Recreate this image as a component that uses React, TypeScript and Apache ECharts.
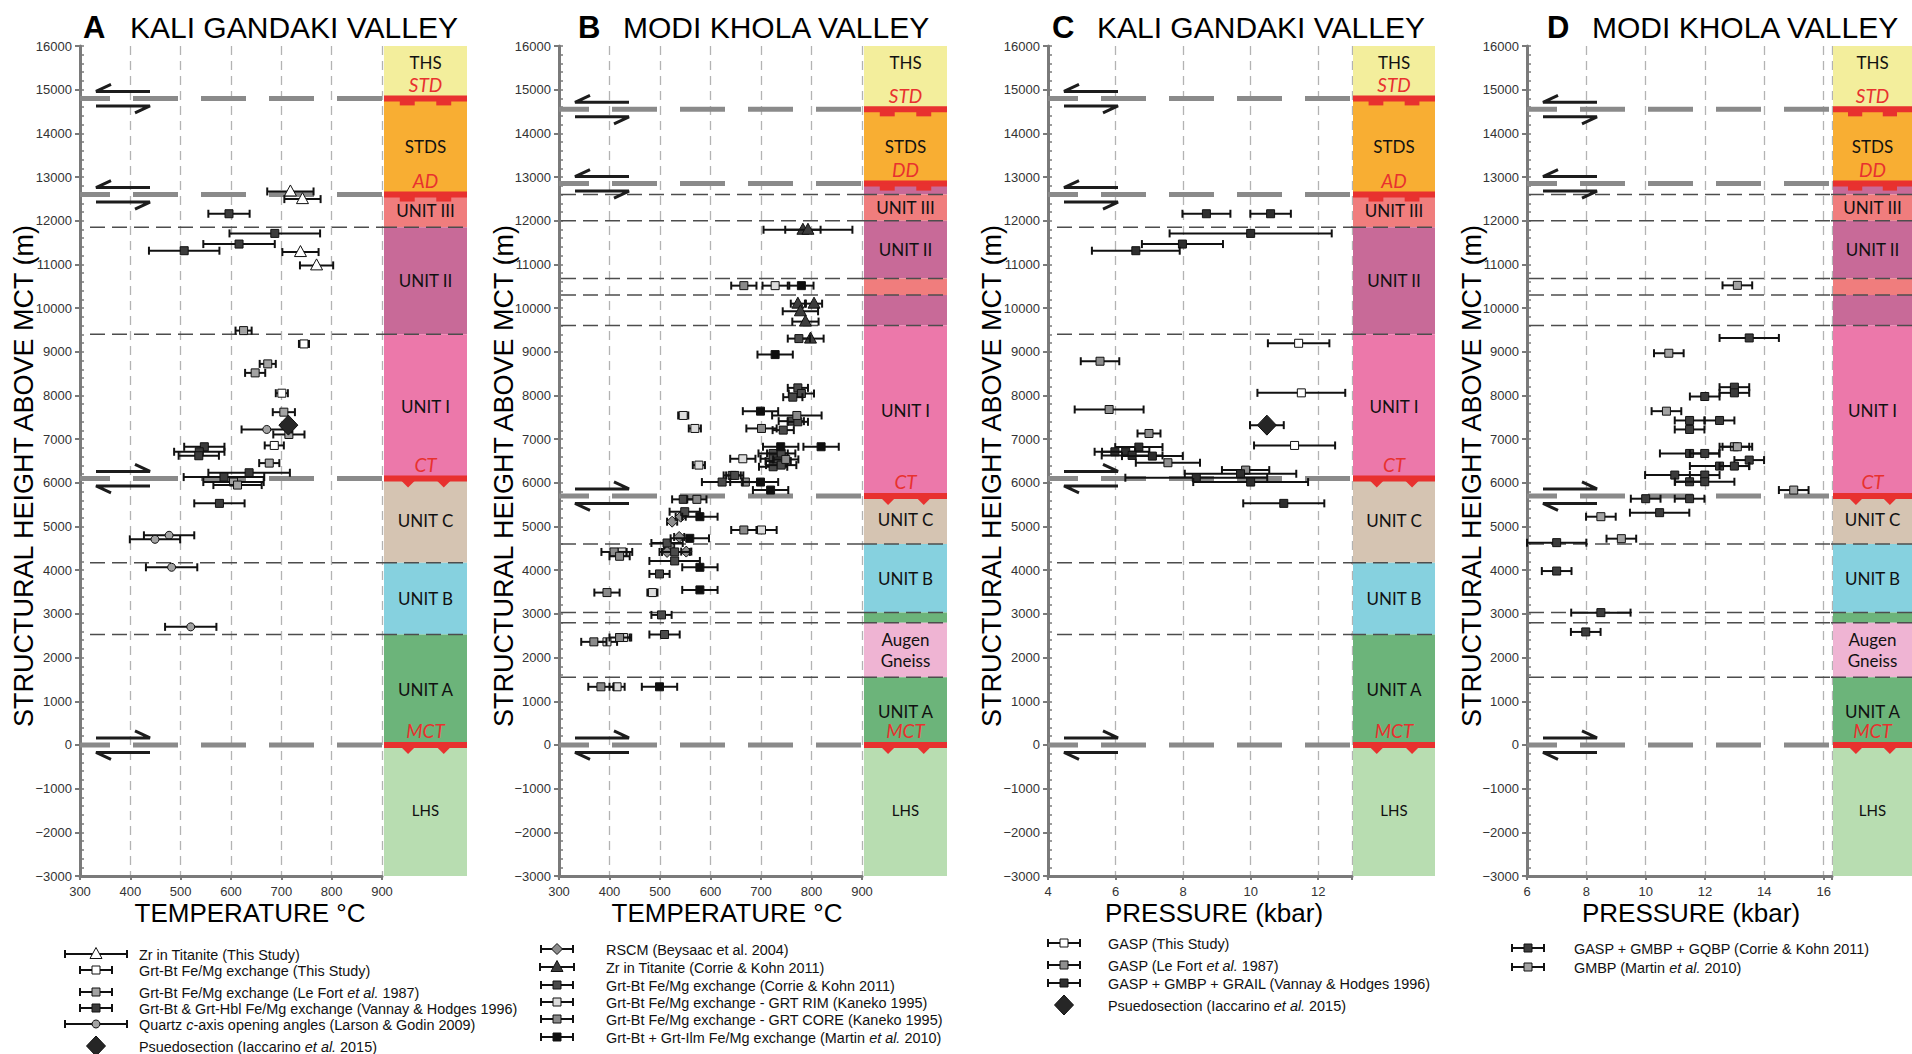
import React, { useEffect, useRef } from "react";
import * as echarts from "echarts";

// ---------------- axis values ----------------
const HEIGHT_MIN = -3000;
const HEIGHT_MAX = 16000;
const HEIGHT_STEP = 1000;

// ---------------- Panel A : Kali Gandaki, temperature [°C, height m, ±°C] ----------------
const zrTitaniteThisStudyA = [[718, 12670, 46], [742, 12495, 36], [738, 11283, 36], [770, 10978, 33]];
const grtBtThisStudyA = [[745, 9180, 10], [701, 8052, 12], [686, 6856, 19]];
const grtBtLeFortA = [[625, 9485, 16], [673, 8723, 16], [648, 8517, 20], [705, 7618, 22], [715, 7107, 31], [676, 6452, 20], [605, 6018, 60], [613, 5949, 48]];
const grtBtVannayA = [[596, 12160, 41], [687, 11710, 90], [616, 11466, 71], [507, 11314, 70], [547, 6826, 40], [537, 6711, 50], [536, 6620, 40], [636, 6231, 81], [586, 6132, 80], [577, 5530, 50]];
const quartzLarsonA = [[671, 7222, 50], [477, 4799, 50], [449, 4707, 50], [482, 4067, 51], [520, 2703, 51]];
const pseudosectionA = [[714, 7321, 0]];

// ---------------- Panel B : Modi Khola, temperature ----------------
const rscmB = [[524, 5111, 10], [541, 5225, 10], [538, 4761, 10], [518, 4555, 10], [514, 4418, 10], [552, 4426, 10]];
const zrTitaniteCorrieB = [[783, 11794, 35], [793, 11794, 88], [773, 10102, 14], [805, 10102, 16], [778, 9927, 35], [788, 9691, 26], [798, 9302, 26]];
const grtBtCorrieB = [[775, 9302, 22], [773, 8174, 20], [780, 8045, 25], [763, 7961, 19], [760, 7412, 25], [773, 7397, 20], [744, 7207, 21], [724, 6673, 29], [740, 6673, 28], [724, 6551, 25], [734, 6498, 25], [724, 6368, 28], [740, 6406, 30], [643, 6170, 17], [648, 6170, 17], [623, 6018, 40], [546, 5622, 22], [549, 5339, 30], [514, 4623, 31], [529, 4418, 30], [529, 4212, 50], [499, 3915, 20], [503, 2977, 20], [509, 2528, 30]];
const grtRimKanekoB = [[728, 10514, 25], [546, 7542, 10], [569, 7245, 12], [664, 6551, 25], [577, 6406, 12], [701, 4921, 30], [425, 4418, 20], [485, 3488, 10], [395, 2360, 20], [428, 2459, 15], [415, 1331, 15]];
const grtCoreKanekoB = [[666, 10514, 25], [771, 7542, 49], [701, 7245, 30], [749, 6536, 25], [669, 6018, 30], [573, 5622, 19], [666, 4921, 25], [409, 4418, 25], [420, 4319, 20], [395, 3488, 25], [369, 2360, 25], [420, 2459, 20], [383, 1331, 25]];
const grtIlmMartinB = [[780, 10514, 24], [728, 8936, 35], [699, 7641, 35], [739, 6826, 35], [819, 6826, 35], [699, 6018, 35], [719, 5835, 35], [579, 5225, 35], [559, 4730, 38], [579, 4067, 35], [579, 3549, 35], [499, 1331, 35]];

// ---------------- Panel C : Kali Gandaki, pressure [kbar, height m, ±kbar] ----------------
const gaspThisStudyC = [[11.42, 9195, 0.91], [11.5, 8060, 1.3], [11.3, 6856, 1.2]];
const gaspLeFortC = [[5.54, 8784, 0.57], [5.81, 7679, 1.02], [6.99, 7130, 0.34], [7.55, 6460, 0.95], [9.85, 6292, 0.7]];
const gaspVannayC = [[8.69, 12160, 0.71], [10.59, 12160, 0.6], [10.0, 11710, 2.4], [7.98, 11466, 1.2], [6.6, 11314, 1.3], [6.69, 6818, 0.7], [5.98, 6711, 0.6], [6.3, 6711, 0.7], [6.49, 6627, 0.9], [7.09, 6612, 0.9], [9.7, 6208, 1.65], [8.39, 6117, 2.1], [10.0, 6018, 1.7], [10.98, 5530, 1.2]];
const pseudosectionC = [[10.48, 7321, 0.5]];

// ---------------- Panel D : Modi Khola, pressure ----------------
const gaspCorrieD = [[13.49, 9317, 1.0], [12.99, 8190, 0.5], [12.99, 8060, 0.5], [11.99, 7976, 0.5], [11.48, 7428, 0.5], [12.49, 7428, 0.5], [11.48, 7222, 0.5], [11.48, 6673, 1.0], [11.99, 6673, 0.5], [13.49, 6521, 0.5], [12.49, 6384, 1.0], [12.99, 6384, 0.5], [10.98, 6178, 1.0], [11.99, 6178, 0.5], [11.48, 6025, 0.5], [11.99, 6025, 1.0], [10.0, 5637, 0.5], [11.48, 5637, 0.5], [10.47, 5317, 1.0], [7.0, 4631, 1.0], [7.0, 3981, 0.5], [8.49, 3029, 1.0], [7.98, 2587, 0.5]];
const gmbpMartinD = [[13.09, 10521, 0.5], [10.78, 8967, 0.5], [10.7, 7641, 0.5], [12.99, 6826, 0.5], [13.09, 6826, 0.5], [14.99, 5835, 0.5], [8.49, 5225, 0.5], [9.18, 4722, 0.5]];

// ---------------- tectonostratigraphic columns ----------------
const kaliBands = [
  { unit: "THS", from: 14800, to: 16000, label: "THS" },
  { unit: "STDS", from: 12600, to: 14800, label: "STDS" },
  { unit: "UNIT III", from: 11850, to: 12600, label: "UNIT III" },
  { unit: "UNIT II", from: 9400, to: 11850, label: "UNIT II" },
  { unit: "UNIT I", from: 6100, to: 9400, label: "UNIT I" },
  { unit: "UNIT C", from: 4170, to: 6100, label: "UNIT C" },
  { unit: "UNIT B", from: 2530, to: 4170, label: "UNIT B" },
  { unit: "UNIT A", from: 0, to: 2530, label: "UNIT A" },
  { unit: "LHS", from: -3000, to: 0, label: "LHS" },
];
const kaliFaults = [
  { name: "STD", height: 14800, sense: "normal" },
  { name: "AD", height: 12600, sense: "normal" },
  { name: "CT", height: 6100, sense: "thrust" },
  { name: "MCT", height: 0, sense: "thrust" },
];
const kaliBoundaries = [11850, 9400, 4170, 2530];

const modiBands = [
  { unit: "THS", from: 14550, to: 16000, label: "THS" },
  { unit: "STDS", from: 12850, to: 14550, label: "STDS" },
  { unit: "UNIT II", from: 12600, to: 12850, label: "" },
  { unit: "UNIT III", from: 12000, to: 12600, label: "UNIT III" },
  { unit: "UNIT II", from: 10680, to: 12000, label: "UNIT II" },
  { unit: "UNIT III", from: 10300, to: 10680, label: "" },
  { unit: "UNIT II", from: 9600, to: 10300, label: "" },
  { unit: "UNIT I", from: 5700, to: 9600, label: "UNIT I" },
  { unit: "UNIT C", from: 4600, to: 5700, label: "UNIT C" },
  { unit: "UNIT B", from: 3030, to: 4600, label: "UNIT B" },
  { unit: "UNIT A", from: 2800, to: 3030, label: "" },
  { unit: "Augen Gneiss", from: 1550, to: 2800, label: "Augen\nGneiss" },
  { unit: "UNIT A", from: 0, to: 1550, label: "UNIT A" },
  { unit: "LHS", from: -3000, to: 0, label: "LHS" },
];
const modiFaults = [
  { name: "STD", height: 14550, sense: "normal" },
  { name: "DD", height: 12850, sense: "normal" },
  { name: "CT", height: 5700, sense: "thrust" },
  { name: "MCT", height: 0, sense: "thrust" },
];
const modiBoundaries = [12600, 12000, 10680, 10300, 9600, 4600, 3030, 2800, 1550];

// ---------------- styles ----------------
const RED = "#e8312f";
const unitColors: Record<string, string> = {
  THS: "#f3ee9c",
  STDS: "#f8ae33",
  "UNIT III": "#f07d7d",
  "UNIT II": "#c86a98",
  "UNIT I": "#ec78aa",
  "UNIT C": "#d5c4b2",
  "UNIT B": "#86d1df",
  "UNIT A": "#6cb47a",
  "Augen Gneiss": "#efb4d3",
  LHS: "#b8ddb1",
};
const FONT = "'Liberation Sans', Arial, sans-serif";
const COLFONT = "Lato, 'Open Sans', sans-serif";

const setsA = [
  { legend: "Zr in Titanite (This Study)", data: zrTitaniteThisStudyA, symbol: "triangle", fill: "#ffffff", bar: "long" },
  { legend: "Grt-Bt Fe/Mg exchange (This Study)", data: grtBtThisStudyA, symbol: "square", fill: "#ffffff", bar: "short" },
  { legend: "Grt-Bt Fe/Mg exchange (Le Fort {i|et al.} 1987)", data: grtBtLeFortA, symbol: "square", fill: "#a3a3a3", bar: "short" },
  { legend: "Grt-Bt & Grt-Hbl Fe/Mg exchange (Vannay & Hodges 1996)", data: grtBtVannayA, symbol: "square", fill: "#3c3c3c", bar: "short" },
  { legend: "Quartz {i|c}-axis opening angles (Larson & Godin 2009)", data: quartzLarsonA, symbol: "circle", fill: "#a3a3a3", bar: "long" },
  { legend: "Psuedosection (Iaccarino {i|et al.} 2015)", data: pseudosectionA, symbol: "bigDiamond", fill: "#262626", bar: "none" },
];
const setsB = [
  { legend: "RSCM (Beysaac et al. 2004)", data: rscmB, symbol: "diamond", fill: "#8c8c8c", bar: "short" },
  { legend: "Zr in Titanite (Corrie & Kohn 2011)", data: zrTitaniteCorrieB, symbol: "triangle", fill: "#3c3c3c", bar: "mid" },
  { legend: "Grt-Bt Fe/Mg exchange (Corrie & Kohn 2011)", data: grtBtCorrieB, symbol: "square", fill: "#4a4a4a", bar: "short" },
  { legend: "Grt-Bt Fe/Mg exchange - GRT RIM (Kaneko 1995)", data: grtRimKanekoB, symbol: "square", fill: "#dcdcdc", bar: "short" },
  { legend: "Grt-Bt Fe/Mg exchange - GRT CORE (Kaneko 1995)", data: grtCoreKanekoB, symbol: "square", fill: "#8a8a8a", bar: "short" },
  { legend: "Grt-Bt + Grt-Ilm Fe/Mg exchange (Martin {i|et al.} 2010)", data: grtIlmMartinB, symbol: "square", fill: "#0e0e0e", bar: "short" },
];
const setsC = [
  { legend: "GASP (This Study)", data: gaspThisStudyC, symbol: "square", fill: "#ffffff", bar: "short" },
  { legend: "GASP (Le Fort {i|et al.} 1987)", data: gaspLeFortC, symbol: "square", fill: "#8f8f8f", bar: "short" },
  { legend: "GASP + GMBP + GRAIL (Vannay & Hodges 1996)", data: gaspVannayC, symbol: "square", fill: "#2e2e2e", bar: "short" },
  { legend: "Psuedosection (Iaccarino {i|et al.} 2015)", data: pseudosectionC, symbol: "bigDiamond", fill: "#262626", bar: "none" },
];
const setsD = [
  { legend: "GASP + GMBP + GQBP (Corrie & Kohn 2011)", data: gaspCorrieD, symbol: "square", fill: "#3c3c3c", bar: "short" },
  { legend: "GMBP (Martin {i|et al.} 2010)", data: gmbpMartinD, symbol: "square", fill: "#a3a3a3", bar: "short" },
];

const panels = [
  { letter: "A", title: "KALI GANDAKI VALLEY", xTitle: "TEMPERATURE °C", xMin: 300, xMax: 900, xStep: 100, xLabelMax: 900, bands: kaliBands, faults: kaliFaults, boundaries: kaliBoundaries, sets: setsA },
  { letter: "B", title: "MODI KHOLA VALLEY", xTitle: "TEMPERATURE °C", xMin: 300, xMax: 900, xStep: 100, xLabelMax: 900, bands: modiBands, faults: modiFaults, boundaries: modiBoundaries, sets: setsB },
  { letter: "C", title: "KALI GANDAKI VALLEY", xTitle: "PRESSURE (kbar)", xMin: 4, xMax: 13, xStep: 2, xLabelMax: 12, bands: kaliBands, faults: kaliFaults, boundaries: kaliBoundaries, sets: setsC },
  { letter: "D", title: "MODI KHOLA VALLEY", xTitle: "PRESSURE (kbar)", xMin: 6, xMax: 16.28, xStep: 2, xLabelMax: 16, bands: modiBands, faults: modiFaults, boundaries: modiBoundaries, sets: setsD },
];

// ---------------- layout (pixels) ----------------
const W = 1912;
const H = 1054;
const PLOT_TOP = 46;
const PLOT_H = 830;
const layout = [
  { plotLeft: 80, plotWidth: 302, colLeft: 384, colWidth: 83, letterX: 83, titleX: 130, yTitleX: 24, xTitleX: 250, legendCx: 96, legendTx: 139, legendY: [954, 970, 992, 1008, 1024, 1046], inset: 10 },
  { plotLeft: 559, plotWidth: 303, colLeft: 864, colWidth: 83, letterX: 578, titleX: 623, yTitleX: 504, xTitleX: 727, legendCx: 557, legendTx: 606, legendY: [949, 967, 985, 1002, 1019, 1037], inset: 2 },
  { plotLeft: 1048, plotWidth: 304, colLeft: 1353, colWidth: 82, letterX: 1052, titleX: 1097, yTitleX: 992, xTitleX: 1214, legendCx: 1064, legendTx: 1108, legendY: [943, 965, 983, 1005], inset: 9 },
  { plotLeft: 1527, plotWidth: 305, colLeft: 1833, colWidth: 79, letterX: 1547, titleX: 1592, yTitleX: 1472, xTitleX: 1691, legendCx: 1528, legendTx: 1574, legendY: [948, 967], inset: 2 },
];

// ---------------- drawing helpers ----------------
function marker(sym: string, cx: number, cy: number, fill: string): any {
  const st = { fill, stroke: "#111", lineWidth: 1 };
  if (sym === "square") return { type: "rect", shape: { x: cx - 4, y: cy - 4, width: 8, height: 8 }, style: st };
  if (sym === "triangle") return { type: "polygon", shape: { points: [[cx, cy - 6.5], [cx + 6, cy + 4.5], [cx - 6, cy + 4.5]] }, style: st };
  if (sym === "circle") return { type: "circle", shape: { cx, cy, r: 4 }, style: st };
  if (sym === "diamond") return { type: "polygon", shape: { points: [[cx, cy - 5.5], [cx + 5.5, cy], [cx, cy + 5.5], [cx - 5.5, cy]] }, style: st };
  return { type: "polygon", shape: { points: [[cx, cy - 10], [cx + 9.5, cy], [cx, cy + 10], [cx - 9.5, cy]] }, style: st };
}

function errorBar(x1: number, x2: number, y: number): any[] {
  const st = { stroke: "#111", lineWidth: 2 };
  return [
    { type: "line", shape: { x1, y1: y, x2, y2: y }, style: st },
    { type: "line", shape: { x1, y1: y - 4, x2: x1, y2: y + 4 }, style: st },
    { type: "line", shape: { x1: x2, y1: y - 4, x2, y2: y + 4 }, style: st },
  ];
}

function arrows(x0: number, y: number, sense: string): any[] {
  const a = x0 + 16;
  const b = x0 + 70;
  const ty = y - 7;
  const by = y + 7.5;
  const st = { stroke: "#1c1c1c", lineWidth: 3, fill: null as any };
  if (sense === "normal") {
    return [
      { type: "polyline", shape: { points: [[a + 15, ty - 7], [a, ty], [b, ty]] }, style: st },
      { type: "polyline", shape: { points: [[a, by], [b, by], [b - 15, by + 7]] }, style: st },
    ];
  }
  return [
    { type: "polyline", shape: { points: [[a, ty], [b, ty], [b - 15, ty - 7]] }, style: st },
    { type: "polyline", shape: { points: [[b, by], [a, by], [a + 15, by + 7]] }, style: st },
  ];
}

function textEl(x: number, y: number, text: string, opts: any): any {
  return {
    type: "text",
    x,
    y,
    scaleX: opts.scaleX || 1,
    style: {
      text,
      align: opts.align || "left",
      textAlign: opts.align || "left",
      verticalAlign: "middle",
      textVerticalAlign: "middle",
      fill: opts.fill || "#111",
      fontSize: opts.fontSize,
      fontFamily: opts.fontFamily || FONT,
      fontWeight: opts.fontWeight || "normal",
      fontStyle: opts.fontStyle || "normal",
      lineHeight: opts.lineHeight,
      rich: opts.rich,
    },
    rotation: opts.rotation || 0,
  };
}

const minusFmt = (v: number) => (v < 0 ? "\u2212" + Math.abs(v) : String(v));

function buildOption() {
  const grid: any[] = [];
  const xAxis: any[] = [];
  const yAxis: any[] = [];
  const series: any[] = [];
  const graphic: any[] = [];

  panels.forEach((p, i) => {
    const L = layout[i];
    const gPlot = grid.length;
    grid.push({ left: L.plotLeft, top: PLOT_TOP, width: L.plotWidth, height: PLOT_H });
    grid.push({ left: L.colLeft, top: PLOT_TOP, width: L.colWidth, height: PLOT_H });
    const xi = xAxis.length;
    xAxis.push({
      type: "value",
      gridIndex: gPlot,
      min: p.xMin,
      max: p.xMax,
      interval: p.xStep,
      axisLine: { show: true, onZero: false, lineStyle: { color: "#7a7a7a", width: 3 } },
      axisTick: { show: true, length: 4, lineStyle: { color: "#7a7a7a", width: 2 } },
      axisLabel: {
        color: "#333",
        fontSize: 13,
        fontFamily: FONT,
        margin: 9,
        formatter: (v: number) => (v <= p.xLabelMax + 1e-6 && Math.abs(v / p.xStep - Math.round(v / p.xStep)) < 1e-6 ? String(v) : ""),
      },
      splitLine: { show: true, lineStyle: { color: "#b3b3b3", width: 1.3, type: [9, 6] } },
    });
    xAxis.push({ type: "value", gridIndex: gPlot + 1, min: 0, max: 1, show: false });
    const yi = yAxis.length;
    yAxis.push({
      type: "value",
      gridIndex: gPlot,
      position: "left",
      min: HEIGHT_MIN,
      max: HEIGHT_MAX,
      interval: HEIGHT_STEP,
      axisLine: { show: true, onZero: false, lineStyle: { color: "#7a7a7a", width: 3 } },
      axisTick: { show: true, length: 5, lineStyle: { color: "#7a7a7a", width: 2 } },
      axisLabel: { color: "#333", fontSize: 13, fontFamily: FONT, margin: 8, formatter: minusFmt },
      splitLine: { show: false },
    });
    yAxis.push({
      type: "value",
      gridIndex: gPlot,
      position: "left",
      min: HEIGHT_MIN,
      max: HEIGHT_MAX,
      interval: HEIGHT_STEP,
      axisLine: { show: false, onZero: false },
      axisLabel: { show: false },
      axisTick: { show: true, inside: true, length: 4, lineStyle: { color: "#7a7a7a", width: 1.5 } },
      minorTick: { show: true, splitNumber: 5, length: 4, lineStyle: { color: "#7a7a7a", width: 1.5 } },
      splitLine: { show: false },
    });
    yAxis.push({ type: "value", gridIndex: gPlot + 1, min: HEIGHT_MIN, max: HEIGHT_MAX, show: false });

    // ---- unit boundaries in plot
    series.push({
      type: "custom",
      xAxisIndex: xi,
      yAxisIndex: yi,
      z: 2,
      silent: true,
      data: p.boundaries.map((h) => [p.xMin, h]),
      renderItem: (params: any, api: any) => {
        const cs = params.coordSys;
        const y = api.coord([p.xMin, api.value(1)])[1];
        return {
          type: "line",
          shape: { x1: cs.x + L.inset, y1: y, x2: cs.x + cs.width, y2: y },
          style: { stroke: "#4d4d4d", lineWidth: 1.5, lineDash: [15, 7] },
        };
      },
    });
    // ---- faults in plot: grey dashed line + shear-sense arrows
    series.push({
      type: "custom",
      xAxisIndex: xi,
      yAxisIndex: yi,
      z: 3,
      silent: true,
      data: p.faults.map((f) => [p.xMin, f.height]),
      renderItem: (params: any, api: any) => {
        const f = p.faults[params.dataIndex];
        const cs = params.coordSys;
        const y = api.coord([p.xMin, api.value(1)])[1];
        return {
          type: "group",
          children: [
            {
              type: "line",
              shape: { x1: cs.x, y1: y, x2: cs.x + cs.width, y2: y },
              style: { stroke: "#8a8a8a", lineWidth: 5, lineDash: [45, 23], lineDashOffset: 15 },
            },
            ...arrows(cs.x, y, f.sense),
          ],
        };
      },
    });
    // ---- data sets
    p.sets.forEach((s) => {
      series.push({
        type: "custom",
        xAxisIndex: xi,
        yAxisIndex: yi,
        z: 5,
        silent: true,
        data: s.data,
        renderItem: (params: any, api: any) => {
          const x = api.value(0);
          const y = api.value(1);
          const e = api.value(2);
          const c = api.coord([x, y]);
          const kids: any[] = [];
          if (e > 0) {
            const l = api.coord([x - e, y])[0];
            const r = api.coord([x + e, y])[0];
            kids.push(...errorBar(l, r, c[1]));
          }
          kids.push(marker(s.symbol, c[0], c[1], s.fill));
          return { type: "group", children: kids };
        },
      });
    });

    // ---- column: bands
    series.push({
      type: "custom",
      xAxisIndex: xi + 1,
      yAxisIndex: yi + 2,
      z: 1,
      silent: true,
      data: p.bands.map((b) => [0, b.from, b.to]),
      renderItem: (params: any, api: any) => {
        const b = p.bands[params.dataIndex];
        const tl = api.coord([0, api.value(2)]);
        const br = api.coord([1, api.value(1)]);
        const kids: any[] = [
          { type: "rect", shape: { x: tl[0], y: tl[1], width: br[0] - tl[0], height: br[1] - tl[1] }, style: { fill: unitColors[b.unit] } },
        ];
        if (b.label) {
          const cy = params.dataIndex === 0 ? tl[1] + 16 : (tl[1] + br[1]) / 2;
          kids.push(
            textEl((tl[0] + br[0]) / 2, cy, b.label, {
              align: "center",
              fontSize: b.unit === "LHS" ? 15 : 17,
              fontFamily: COLFONT,
              lineHeight: 21,
            })
          );
        }
        return { type: "group", children: kids };
      },
    });
    // ---- column: boundaries
    series.push({
      type: "custom",
      xAxisIndex: xi + 1,
      yAxisIndex: yi + 2,
      z: 2,
      silent: true,
      data: p.boundaries.map((h) => [0, h]),
      renderItem: (params: any, api: any) => {
        const cs = params.coordSys;
        const y = api.coord([0, api.value(1)])[1];
        return {
          type: "line",
          shape: { x1: cs.x - 2, y1: y, x2: cs.x + cs.width, y2: y },
          style: { stroke: "#4d4d4d", lineWidth: 1.5, lineDash: [15, 7] },
        };
      },
    });
    // ---- column: red faults
    series.push({
      type: "custom",
      xAxisIndex: xi + 1,
      yAxisIndex: yi + 2,
      z: 3,
      silent: true,
      data: p.faults.map((f) => [0, f.height]),
      renderItem: (params: any, api: any) => {
        const f = p.faults[params.dataIndex];
        const cs = params.coordSys;
        const y = api.coord([0, api.value(1)])[1];
        const x0 = cs.x;
        const w = cs.width;
        const kids: any[] = [{ type: "rect", shape: { x: x0, y: y - 3, width: w, height: 6 }, style: { fill: RED } }];
        if (f.sense === "normal") {
          [0.19, 0.63].forEach((fr) => kids.push({ type: "rect", shape: { x: x0 + fr * w, y: y, width: 0.18 * w, height: 7 }, style: { fill: RED } }));
        } else {
          [0.29, 0.72].forEach((fr) => {
            const cx = x0 + fr * w;
            kids.push({ type: "polygon", shape: { points: [[cx - 7, y + 2], [cx + 7, y + 2], [cx, y + 9]] }, style: { fill: RED } });
          });
        }
        kids.push(textEl(x0 + w / 2, y - 14, f.name, { align: "center", fontSize: 19, fontFamily: COLFONT, fontStyle: "italic", fill: RED }));
        return { type: "group", children: kids };
      },
    });

    // ---- titles
    graphic.push(textEl(L.letterX, 27, p.letter, { fontSize: 31, fontWeight: "bold", fill: "#000" }));
    graphic.push(textEl(L.titleX, 27, p.title, { fontSize: 30, fill: "#000" }));
    graphic.push(textEl(L.yTitleX, 476, "STRUCTURAL HEIGHT ABOVE MCT (m)", { align: "center", fontSize: 27, fill: "#000", rotation: Math.PI / 2 }));
    graphic.push(textEl(L.xTitleX, 913, p.xTitle, { align: "center", fontSize: 26, fill: "#000" }));

    // ---- legend
    p.sets.forEach((s, k) => {
      const y = L.legendY[k];
      const cx = L.legendCx;
      if (s.bar !== "none") {
        const hw = s.bar === "long" ? 31 : s.bar === "mid" ? 17 : 16;
        graphic.push(...errorBar(cx - hw, cx + hw, y));
      }
      graphic.push(marker(s.symbol, cx, y, s.fill));
      graphic.push(
        textEl(L.legendTx, y, s.legend, {
          fontSize: 15.5,
          scaleX: 0.93,
          fill: "#111",
          rich: { i: { fontStyle: "italic", fontSize: 15.5, fontFamily: FONT, fill: "#111" } },
        })
      );
    });
  });

  return {
    animation: false,
    backgroundColor: "#ffffff",
    grid,
    xAxis,
    yAxis,
    series,
    graphic,
  };
}

export default function App() {
  const ref = useRef<HTMLDivElement>(null);
  useEffect(() => {
    if (!ref.current) return;
    const chart = echarts.init(ref.current, null, { renderer: "svg", width: W, height: H });
    chart.setOption(buildOption() as any);
    return () => {
      chart.dispose();
    };
  }, []);
  return <div ref={ref} style={{ position: "absolute", left: 0, top: 0, width: W, height: H, background: "#fff" }} />;
}
